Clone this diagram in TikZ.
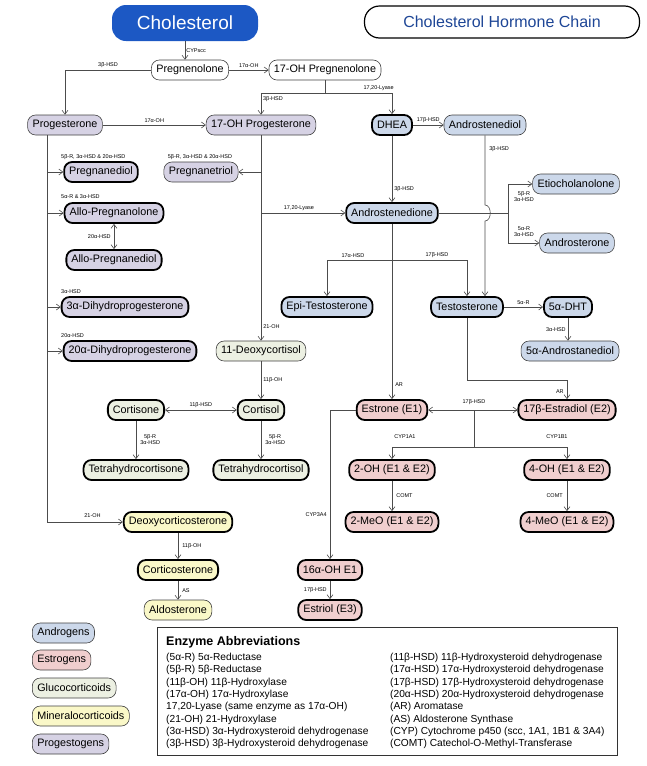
\documentclass[tikz,border=0pt]{standalone}
\usepackage{fontspec}
\setmainfont{Liberation Sans}
\usetikzlibrary{arrows.meta}
\definecolor{andro}{RGB}{204,216,234}
\definecolor{estro}{RGB}{240,206,206}
\definecolor{gluco}{RGB}{236,240,226}
\definecolor{mineral}{RGB}{250,248,200}
\definecolor{progest}{RGB}{214,210,228}
\definecolor{chol}{RGB}{28,88,196}
\definecolor{ttl}{RGB}{30,70,150}
\begin{document}
\begin{tikzpicture}[x=1pt,y=-1pt,
  n/.style={draw=black!75,line width=0.6pt,rounded corners=8pt,minimum height=20pt,inner xsep=5pt,inner ysep=2pt,font=\fontsize{10.8}{12}\selectfont},
  b/.style={n,draw=black,line width=1.8pt},
  lab/.style={font=\fontsize{5.5}{6}\selectfont,inner sep=1pt},
  c/.style={draw=black!70,line width=0.6pt},
  a/.style={c,-{Straight Barb[length=4pt,width=6pt]}},
  aa/.style={c,{Straight Barb[length=4pt,width=6pt]}-{Straight Barb[length=4pt,width=6pt]}}]
\useasboundingbox (0,0) rectangle (646,766);
% title nodes
\node[fill=chol,text=white,rounded corners=14pt,minimum width=146pt,minimum height=36pt,font=\fontsize{19}{22}\selectfont] (chol) at (185,23) {Cholesterol};
\node[draw=black,line width=1.2pt,rounded corners=15pt,minimum width=275pt,minimum height=32pt,text=ttl,font=\fontsize{16}{19}\selectfont] (title) at (502,22) {Cholesterol Hormone Chain};
% nodes
\node[n,fill=white] (preg) at (190,70) {Pregnenolone};
\node[n,fill=white] (ohpreg) at (325,70) {17-OH Pregnenolone};
\node[n,fill=progest] (prog) at (65,125) {Progesterone};
\node[n,fill=progest] (ohprog) at (261,125) {17-OH Progesterone};
\node[b,fill=andro] (dhea) at (392,125) {DHEA};
\node[n,fill=andro] (adiol) at (485,125) {Androstenediol};
\node[b,fill=progest] (pdiol) at (101,172) {Pregnanediol};
\node[n,fill=progest] (ptriol) at (201,172) {Pregnanetriol};
\node[b,fill=progest] (apol) at (114,213) {Allo-Pregnanolone};
\node[b,fill=progest] (apdiol) at (114,260) {Allo-Pregnanediol};
\node[b,fill=progest] (dhp3) at (125,307) {3α-Dihydroprogesterone};
\node[b,fill=progest] (dhp20) at (130,351) {20α-Dihydroprogesterone};
\node[b,fill=andro] (adione) at (392,213) {Androstenedione};
\node[n,fill=andro] (etio) at (576,184) {Etiocholanolone};
\node[n,fill=andro] (andro) at (577,243) {Androsterone};
\node[b,fill=andro] (epi) at (327,307) {Epi-Testosterone};
\node[b,fill=andro] (testo) at (467,307) {Testosterone};
\node[b,fill=andro] (dht) at (568,307) {5α-DHT};
\node[n,fill=andro] (adiol5) at (570,351) {5α-Androstanediol};
\node[n,fill=gluco] (doc) at (261,351) {11-Deoxycortisol};
\node[b,fill=gluco] (cortisone) at (136,410) {Cortisone};
\node[b,fill=gluco] (cortisol) at (261,410) {Cortisol};
\node[b,fill=gluco] (thcone) at (136,470) {Tetrahydrocortisone};
\node[b,fill=gluco] (thcol) at (261,470) {Tetrahydrocortisol};
\node[b,fill=estro] (e1) at (392,410) {Estrone (E1)};
\node[b,fill=estro] (e2) at (567,410) {17β-Estradiol (E2)};
\node[b,fill=estro] (oh2) at (392,470) {2-OH (E1 \& E2)};
\node[b,fill=estro] (oh4) at (567,470) {4-OH (E1 \& E2)};
\node[b,fill=estro] (meo2) at (392,522) {2-MeO (E1 \& E2)};
\node[b,fill=estro] (meo4) at (567,522) {4-MeO (E1 \& E2)};
\node[b,fill=mineral] (dcs) at (178,522) {Deoxycorticosterone};
\node[b,fill=mineral] (cs) at (178,570) {Corticosterone};
\node[n,fill=mineral] (ald) at (178,610) {Aldosterone};
\node[b,fill=estro] (oh16) at (330,570) {16α-OH E1};
\node[b,fill=estro] (e3) at (330,610) {Estriol (E3)};
% legend
\node[n,fill=andro,anchor=west] (lA) at (32,633) {Androgens};
\node[n,fill=estro,anchor=west] (lE) at (32,660) {Estrogens};
\node[n,fill=gluco,anchor=west] (lG) at (32,688) {Glucocorticoids};
\node[n,fill=mineral,anchor=west] (lM) at (32,716) {Mineralocorticoids};
\node[n,fill=progest,anchor=west] (lP) at (32,744) {Progestogens};
% enzyme box
\node[draw=black!80,line width=0.8pt,minimum width=460pt,minimum height=128pt,anchor=north west] (box) at (157,627) {};
\node[anchor=north west,font=\bfseries\fontsize{12.5}{14}\selectfont,inner sep=0pt] (bt) at (166,636) {Enzyme Abbreviations};
\node[anchor=north west,align=left,font=\fontsize{10.2}{12.3}\selectfont,inner sep=0pt] (bl) at (166,653) {(5α-R) 5α-Reductase\\(5β-R) 5β-Reductase\\(11β-OH) 11β-Hydroxylase\\(17α-OH) 17α-Hydroxylase\\17,20-Lyase (same enzyme as 17α-OH)\\(21-OH) 21-Hydroxylase\\(3α-HSD) 3α-Hydroxysteroid dehydrogenase\\(3β-HSD) 3β-Hydroxysteroid dehydrogenase};
\node[anchor=north west,align=left,font=\fontsize{10.2}{12.3}\selectfont,inner sep=0pt] (br) at (390,653) {(11β-HSD) 11β-Hydroxysteroid dehydrogenase\\(17α-HSD) 17α-Hydroxysteroid dehydrogenase\\(17β-HSD) 17β-Hydroxysteroid dehydrogenase\\(20α-HSD) 20α-Hydroxysteroid dehydrogenase\\(AR) Aromatase\\(AS) Aldosterone Synthase\\(CYP) Cytochrome p450 (scc, 1A1, 1B1 \& 3A4)\\(COMT) Catechol-O-Methyl-Transferase};
% coordinates
\coordinate (j1) at (325,93);
\coordinate (pv) at (47,522);
% labels placed freely
\node[lab,anchor=west] (lb1) at (60,157) {5β-R, 3α-HSD \& 20α-HSD};
\node[lab,anchor=west] (lb2) at (60,197) {5α-R \& 3α-HSD};
\node[lab,anchor=west] (lb3) at (60,292) {3α-HSD};
\node[lab,anchor=west] (lb4) at (60,336) {20α-HSD};
\node[lab] (lb5) at (200,157) {5β-R, 3α-HSD \& 20α-HSD};
\node[lab,align=center] (lb6) at (524,197) {5β-R\\3α-HSD};
\node[lab,align=center] (lb7) at (524,232) {5α-R\\3α-HSD};
\node[lab] (lb8) at (405,437) {CYP1A1};
\node[lab] (lb9) at (557,437) {CYP1B1};
\node[lab] (l17) at (474,402) {17β-HSD};
% connectors
\draw[a] (chol) -- node[lab,right]{CYPscc} (preg.north -| chol);
\draw[a] (preg.west) -| node[lab,pos=0.25,above=1pt]{3β-HSD} (prog.north);
\draw[a] (preg) -- node[lab,above=1pt]{17α-OH} (ohpreg);
\draw[c] (ohpreg.south) -- (j1);
\draw[a] (j1) -| node[lab,pos=0.75,above=1pt,xshift=12pt]{3β-HSD} (ohprog.north);
\draw[a] (j1) -| node[lab,pos=0.4,above=1pt]{17,20-Lyase} (dhea.north);
\draw[a] (prog) -- node[lab,above=1pt]{17α-OH} (ohprog);
\draw[c] (prog.south -| 47,0) -- (pv);
\draw[a] (pdiol.west -| pv) -- (pdiol.west);
\draw[a] (apol.west -| pv) -- (apol.west);
\draw[a] (dhp3.west -| pv) -- (dhp3.west);
\draw[a] (dhp20.west -| pv) -- (dhp20.west);
\draw[a] (pv) -- node[lab,above=3pt,pos=0.6]{21-OH} (dcs.west);
\draw[aa] (apol) -- node[lab,left=2pt]{20α-HSD} (apdiol);
\draw[a] (ohprog.south) -- node[lab,right=1pt,pos=0.93]{21-OH} (doc.north);
\draw[a] (ptriol.east -| ohprog.south) -- (ptriol.east);
\draw[a] (adione.west -| ohprog.south) -- node[lab,above=1pt,pos=0.45]{17,20-Lyase} (adione.west);
\draw[a] (dhea) -- node[lab,above=1pt]{17β-HSD} (adiol);
\draw[a] (dhea) -- node[lab,right=1pt,pos=0.8]{3β-HSD} (adione);
\draw[a] (adiol.south) -- node[lab,right=3pt,pos=0.2]{3β-HSD} (485,205) .. controls (492,205) and (492,221) .. (485,221) -- (testo.north -| adiol.south);
\coordinate (hj) at (508,213);
\draw[c] (adione.east) -- (hj);
\draw[a] (hj) |- (etio.west);
\draw[a] (hj) |- (andro.west);
\coordinate (tj) at (392,260);
\draw[a] (tj) -| node[lab,pos=0.3,above=1pt]{17α-HSD} (epi.north);
\draw[a] (tj) -| node[lab,pos=0.3,above=1pt]{17β-HSD} (testo.north);
\draw[a] (adione) -- node[lab,right=2pt,pos=0.92]{AR} (e1);
\draw[a] (testo) -- node[lab,above=1pt]{5α-R} (dht);
\draw[a] (dht) -- node[lab,left=1pt]{3α-HSD} (adiol5.north -| dht);
\draw[a] (testo.south) |- (567,380) -- node[lab,left=2pt,pos=0.6]{AR} (e2.north);
\draw[a] (doc) -- node[lab,right=1pt]{11β-OH} (cortisol);
\draw[aa] (cortisone) -- node[lab,above=1pt]{11β-HSD} (cortisol);
\draw[a] (cortisone) -- node[lab,right=3pt,align=center]{5β-R\\3α-HSD} (thcone);
\draw[a] (cortisol) -- node[lab,right=3pt,align=center]{5β-R\\3α-HSD} (thcol);
\coordinate (ej) at (474,410);
\coordinate (ej2) at (474,447);
\draw[aa] (e1) -- (e2);
\draw[c] (ej) -- (ej2);
\draw[a] (ej2) -| (oh2.north);
\draw[a] (ej2) -| (oh4.north);
\draw[a] (oh2) -- node[lab,right=3pt]{COMT} (meo2);
\draw[a] (oh4) -- node[lab,left=3pt]{COMT} (meo4);
\draw[a] (e1.west) -| node[lab,pos=0.85,left=2pt]{CYP3A4} (oh16.north);
\draw[a] (oh16) -- node[lab,left=2pt]{17β-HSD} (e3);
\draw[a] (dcs) -- node[lab,right=3pt]{11β-OH} (cs);
\draw[a] (cs) -- node[lab,right=3pt]{AS} (ald);
\end{tikzpicture}
\end{document}
